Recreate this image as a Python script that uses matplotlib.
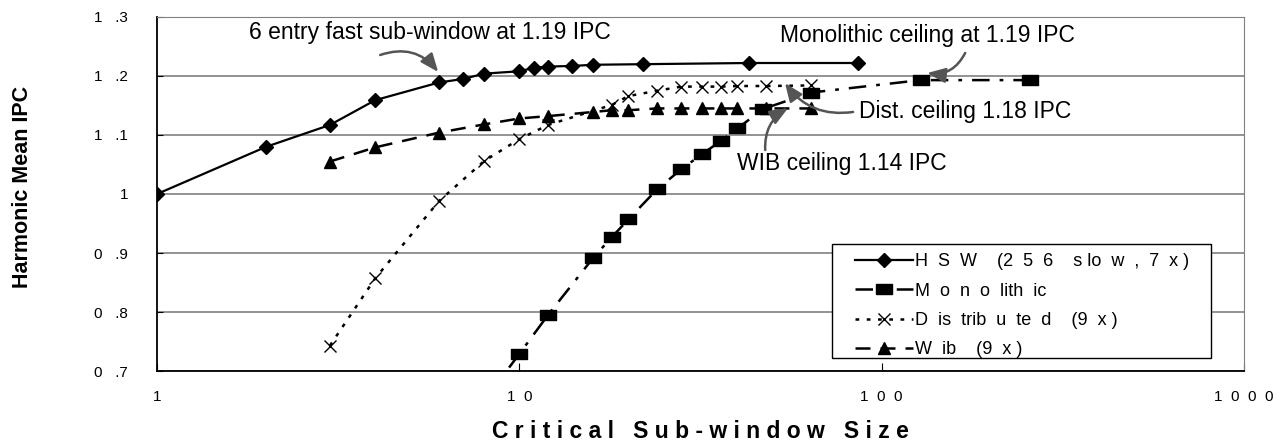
import matplotlib
matplotlib.use('Agg')
import matplotlib.pyplot as plt
from matplotlib.patches import Rectangle

plt.rcParams['font.family'] = ['Liberation Sans', 'DejaVu Sans']

# ----------------------------------------------------------------
# data
hsw_x = [1, 2, 3, 4, 6, 7, 8, 10, 11, 12, 14, 16, 22, 43, 86]
hsw_y = [1.000, 1.080, 1.117, 1.159, 1.189, 1.195, 1.204, 1.208, 1.214, 1.216,
         1.217, 1.219, 1.220, 1.222, 1.222]

mono_x = [8, 10, 12, 16, 18, 20, 24, 28, 32, 36, 40, 47, 64, 128, 256]
mono_y = [0.650, 0.729, 0.795, 0.892, 0.927, 0.957, 1.008, 1.042, 1.068, 1.090,
          1.111, 1.144, 1.172, 1.193, 1.193]

dist_x = [3, 4, 6, 8, 10, 12, 18, 20, 24, 28, 32, 36, 40, 48, 64]
dist_y = [0.743, 0.857, 0.988, 1.056, 1.093, 1.117, 1.151, 1.166, 1.175, 1.182,
          1.182, 1.182, 1.183, 1.183, 1.184]

wib_x = [3, 4, 6, 8, 10, 12, 16, 18, 20, 24, 28, 32, 36, 40, 48, 64]
wib_y = [1.055, 1.079, 1.104, 1.118, 1.128, 1.132, 1.139, 1.142, 1.142, 1.145,
         1.145, 1.145, 1.145, 1.145, 1.145, 1.145]

series_labels = ['H  S  W    (2  5  6    s lo  w  ,  7  x )',
                 'M  o  n  o  lith  ic',
                 'D  is  trib  u  te  d    (9  x )',
                 'W  ib    (9  x )']

y_ticks = [0.7, 0.8, 0.9, 1.0, 1.1, 1.2, 1.3]
y_tick_labels = ['0   .7', '0   .8', '0   .9', '1', '1   .1', '1   .2', '1   .3']
x_ticks = [1, 10, 100, 1000]
x_tick_labels = ['1', '1  0', '1  0  0', '1  0  0  0']

# wide rectangle like the excel square marker
rect = [(-1.6, -1), (1.6, -1), (1.6, 1), (-1.6, 1), (-1.6, -1)]

fig = plt.figure(figsize=(12.81, 4.41), dpi=100)
ax = fig.add_axes([0.1226, 0.1587, 0.8485, 0.8028])

ax.plot(hsw_x, hsw_y, color='black', lw=1.6, marker='D', ms=7,
        label=series_labels[0])
ax.plot(mono_x, mono_y, color='black', lw=1.8, dashes=(7, 4, 1.5, 4),
        marker=rect, ms=11, label=series_labels[1])
ax.plot(dist_x, dist_y, color='black', lw=1.8, dashes=(1.5, 3),
        marker='x', ms=9, mew=1.0, label=series_labels[2])
ax.plot(wib_x, wib_y, color='black', lw=1.8, dashes=(6, 4),
        marker='^', ms=9, label=series_labels[3])

ax.set_xscale('log')
ax.set_xlim(1, 1000)
ax.set_ylim(0.7, 1.3)
ax.set_yticks(y_ticks)
ax.set_yticklabels(y_tick_labels)
ax.set_xticks(x_ticks)
ax.set_xticklabels(x_tick_labels)
ax.minorticks_off()
ax.tick_params(axis='y', direction='in', length=4, pad=21, labelsize=11)
ax.tick_params(axis='x', direction='in', length=6, pad=14, labelsize=11)
ax.grid(axis='y', color='#808080', lw=1.2)
ax.set_axisbelow(True)

for side in ['top', 'right']:
    ax.spines[side].set_color('#808080')
for side in ['left', 'bottom']:
    ax.spines[side].set_color('black')
    ax.spines[side].set_linewidth(1.3)

ax.set_xlabel('C r i t i c a l   S u b - w i n d o w   S i z e',
              fontsize=16.5, fontweight='bold', va='top')
ax.xaxis.set_label_coords(0.5, -0.138)
ax.set_ylabel('Harmonic Mean IPC', fontsize=15.5, fontweight='bold')
ax.yaxis.set_label_coords(-0.114, 0.52)

# legend: excel-like box with wide side padding
ax.add_patch(Rectangle((0.621, 0.0367), 0.3486, 0.3221, transform=ax.transAxes,
                       facecolor='white', edgecolor='black', lw=1.0,
                       zorder=4.5))
leg = ax.legend(loc='center left', bbox_to_anchor=(0.642, 0.184),
                borderaxespad=0, borderpad=0, frameon=False, fontsize=13,
                handlelength=3.2, labelspacing=0.68, handletextpad=0.15)
leg.set_zorder(5)

# annotation texts
ax.text(5.67, 1.273, '6 entry fast sub-window at 1.19 IPC', fontsize=16.5,
        ha='center', va='center')
ax.text(134, 1.269, 'Monolithic ceiling at 1.19 IPC', fontsize=16.5,
        ha='center', va='center')
ax.text(86.6, 1.139, 'Dist. ceiling 1.18 IPC', fontsize=16.5,
        ha='left', va='center')
ax.text(39.9, 1.0525, 'WIB ceiling 1.14 IPC', fontsize=16.5,
        ha='left', va='center')

# gray curved arrows
arrow_kw = dict(arrowstyle='-|>,head_length=1.1,head_width=0.45',
                color='#555555', lw=1.8, mutation_scale=10,
                shrinkA=0, shrinkB=0)
ax.annotate('', xy=(5.97, 1.2068), xytext=(4.13, 1.2356),
            arrowprops=dict(connectionstyle='arc3,rad=-0.35', **arrow_kw))
ax.annotate('', xy=(133.5, 1.205), xytext=(170, 1.239),
            arrowprops=dict(connectionstyle='arc3,rad=-0.35', **arrow_kw))
ax.annotate('', xy=(54.1, 1.188), xytext=(83.4, 1.139),
            arrowprops=dict(connectionstyle='arc3,rad=-0.3', **arrow_kw))
ax.annotate('', xy=(55.2, 1.1458), xytext=(47.7, 1.0746),
            arrowprops=dict(connectionstyle='arc3,rad=-0.3', **arrow_kw))

fig.savefig('out.png', dpi=100)
